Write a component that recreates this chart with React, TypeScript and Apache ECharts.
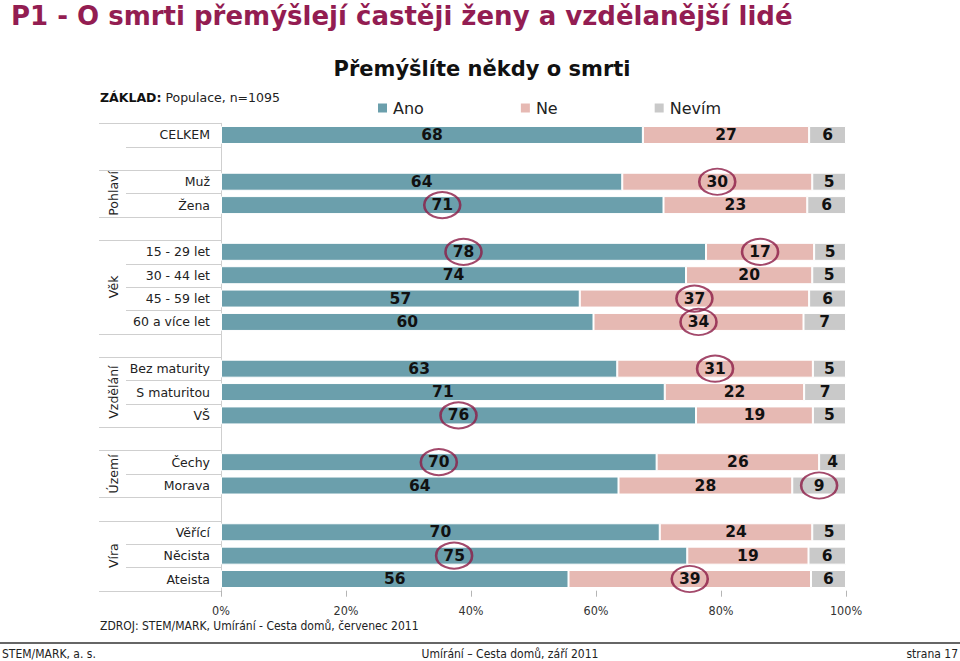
import React, { useEffect, useRef } from 'react';
import * as echarts from 'echarts';

// ---- data ----
const rows = [
  'CELKEM', ' ', 'Muž', 'Žena', '  ',
  '15 - 29 let', '30 - 44 let', '45 - 59 let', '60 a více let', '   ',
  'Bez maturity', 'S maturitou', 'VŠ', '    ',
  'Čechy', 'Morava', '     ',
  'Věřící', 'Něcista', 'Ateista',
];
const seriesNames = ['Ano', 'Ne', 'Nevím'];
const ano = [67.5, null, 64.2, 70.8, null, 77.6, 74.4, 57.4, 59.6, null, 63.4, 71.0, 76.0, null, 69.7, 63.6, null, 70.2, 74.6, 55.6];
const ne = [26.6, null, 30.4, 23.0, null, 17.3, 20.2, 36.7, 33.6, null, 31.3, 22.3, 18.7, null, 26.0, 27.8, null, 24.4, 19.4, 38.8];
const nevim = [5.9, null, 5.4, 6.2, null, 5.1, 5.4, 5.9, 6.8, null, 5.3, 6.7, 5.3, null, 4.3, 8.6, null, 5.4, 6.0, 5.6];
const groups = [
  { name: 'Pohlaví', first: 2, last: 3 },
  { name: 'Věk', first: 5, last: 8 },
  { name: 'Vzdělání', first: 10, last: 12 },
  { name: 'Území', first: 14, last: 15 },
  { name: 'Víra', first: 17, last: 19 },
];
// [row index, series index] of circled values
const highlights: [number, number][] = [
  [2, 1], [3, 0], [5, 0], [5, 1], [7, 1], [8, 1], [10, 1], [12, 0], [14, 0], [15, 2], [18, 0], [19, 1],
];

const COLORS = ['#6b9fac', '#e6b9b3', '#c9c9c9'];
const MAROON = '#8c1c46';
const TITLE_COLOR = '#931d52';
const VERDANA = 'DejaVu Sans, Verdana, sans-serif';
const TAHOMA = 'DejaVu Sans Condensed, Tahoma, sans-serif';

const GRID_LEFT = 221;
const GRID_RIGHT = 846;
const GRID_TOP = 123.3;
const GRID_BOTTOM = 590.7;

export default function App() {
  const ref = useRef<HTMLDivElement>(null);

  useEffect(() => {
    if (!ref.current) return;
    const chart = echarts.init(ref.current, null, { renderer: 'svg' });
    const stacks = [ano, ne, nevim];
    const slot = (GRID_BOTTOM - GRID_TOP) / rows.length;
    const yAt = (b: number) => GRID_TOP + b * slot;

    const center = (r: number, s: number) => {
      let start = 0;
      for (let i = 0; i < s; i++) start += stacks[i][r] as number;
      return start + (stacks[s][r] as number) / 2;
    };

    const lines: any[] = [];
    const addLine = (b: number, full: boolean) => {
      const y = Math.round(yAt(b)) + 0.5;
      lines.push({
        type: 'line',
        shape: { x1: full ? 99 : 126, y1: y, x2: GRID_LEFT, y2: y },
        style: { stroke: '#cfcfcf', lineWidth: 1 },
        silent: true,
      });
    };
    addLine(0, true);
    addLine(1, false);
    const groupTexts: any[] = [];
    groups.forEach((g) => {
      addLine(g.first, true);
      for (let b = g.first + 1; b <= g.last; b++) addLine(b, false);
      addLine(g.last + 1, true);
      groupTexts.push({
        type: 'text',
        x: 113,
        y: (yAt(g.first) + yAt(g.last + 1)) / 2,
        rotation: Math.PI / 2,
        style: {
          text: g.name,
          fill: '#222',
          font: `12.5px ${VERDANA}`,
          textAlign: 'center',
          textVerticalAlign: 'middle',
        },
        silent: true,
      });
    });

    const barSeries = stacks.map((data, i) => ({
      name: seriesNames[i],
      type: 'bar',
      stack: 'total',
      barWidth: 18,
      data,
      itemStyle: { color: COLORS[i], borderColor: '#fff', borderWidth: 1 },
      label: {
        show: true,
        position: 'inside',
        color: '#111',
        fontWeight: 'bold',
        fontSize: 15.5,
        fontFamily: VERDANA,
        formatter: (p: any) => (p.value == null ? '' : String(Math.round(p.value))),
      },
      emphasis: { disabled: true },
    }));

    const option: any = {
      animation: false,
      grid: {
        left: GRID_LEFT,
        right: 960 - GRID_RIGHT,
        top: GRID_TOP,
        bottom: 661 - GRID_BOTTOM,
        containLabel: false,
      },
      legend: {
        data: seriesNames,
        left: 376,
        top: 100,
        padding: 0,
        icon: 'rect',
        itemWidth: 11,
        itemHeight: 11,
        itemGap: 95,
        selectedMode: false,
        textStyle: { fontSize: 16, color: '#222', fontFamily: VERDANA, lineHeight: 16, padding: [0, 0, 0, 0] },
      },
      xAxis: {
        type: 'value',
        min: 0,
        max: 100,
        interval: 20,
        axisLine: { show: false },
        axisTick: { show: true, length: 6, lineStyle: { color: '#b5b5b5' } },
        splitLine: { show: false },
        axisLabel: {
          formatter: '{value}%',
          fontSize: 12.5,
          fontFamily: TAHOMA,
          color: '#333',
          margin: 13,
        },
      },
      yAxis: {
        type: 'category',
        data: rows,
        inverse: true,
        axisLine: { show: true, lineStyle: { color: '#cfcfcf' } },
        axisTick: { show: false },
        axisLabel: { fontSize: 12.5, fontFamily: VERDANA, color: '#222', margin: 11 },
      },
      series: [
        ...barSeries,
        {
          name: 'highlight',
          type: 'scatter',
          symbol: 'circle',
          symbolSize: [36, 26],
          z: 10,
          silent: true,
          itemStyle: { color: 'rgba(0,0,0,0)', borderColor: MAROON, borderWidth: 2.2 },
          data: highlights.map(([r, s]) => [center(r, s), r]),
        },
      ],
      graphic: [
        {
          type: 'text',
          x: 11,
          y: 16,
          style: {
            text: 'P1 - O smrti přemýšlejí častěji ženy a vzdělanější lidé',
            fill: TITLE_COLOR,
            font: `bold 26px ${VERDANA}`,
            textVerticalAlign: 'middle',
          },
        },
        {
          type: 'text',
          x: 482,
          y: 69,
          style: {
            text: 'Přemýšlíte někdy o smrti',
            fill: '#111',
            font: `bold 21px ${VERDANA}`,
            textAlign: 'center',
            textVerticalAlign: 'middle',
          },
        },
        {
          type: 'text',
          x: 100,
          y: 97,
          style: {
            text: '{b|ZÁKLAD:} Populace, n=1095',
            fill: '#222',
            font: `12.5px ${VERDANA}`,
            textVerticalAlign: 'middle',
            rich: { b: { fontWeight: 'bold', fontSize: 12.5, fontFamily: VERDANA, fill: '#111' } },
          },
        },
        ...lines,
        ...groupTexts,
        {
          type: 'text',
          x: 100,
          y: 626,
          style: {
            text: 'ZDROJ: STEM/MARK, Umírání - Cesta domů, červenec 2011',
            fill: '#222',
            font: `12px ${TAHOMA}`,
            textVerticalAlign: 'middle',
          },
        },
        {
          type: 'line',
          shape: { x1: 0, y1: 643, x2: 960, y2: 643 },
          style: { stroke: '#666', lineWidth: 2 },
        },
        {
          type: 'text',
          x: 2,
          y: 654,
          style: { text: 'STEM/MARK, a. s.', fill: '#222', font: `12px ${TAHOMA}`, textVerticalAlign: 'middle' },
        },
        {
          type: 'text',
          x: 510,
          y: 654,
          style: {
            text: 'Umírání – Cesta domů, září 2011',
            fill: '#222',
            font: `12px ${TAHOMA}`,
            textAlign: 'center',
            textVerticalAlign: 'middle',
          },
        },
        {
          type: 'text',
          x: 958,
          y: 654,
          style: {
            text: 'strana 17',
            fill: '#222',
            font: `12px ${TAHOMA}`,
            textAlign: 'right',
            textVerticalAlign: 'middle',
          },
        },
      ],
    };

    chart.setOption(option);
    return () => chart.dispose();
  }, []);

  return (
    <div
      ref={ref}
      style={{ position: 'absolute', left: 0, top: 0, width: 960, height: 661, background: '#fff' }}
    />
  );
}
